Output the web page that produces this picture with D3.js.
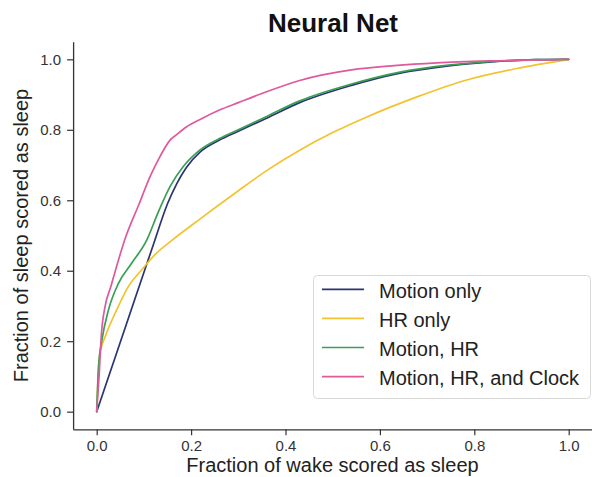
<!DOCTYPE html>
<html>
<head>
<meta charset="utf-8">
<script src="https://cdn.jsdelivr.net/npm/d3@7"></script>
<style>
  html, body { margin: 0; padding: 0; background: #fff; }
  svg { display: block; font-family: "Liberation Sans", Arial, sans-serif; }
</style>
</head>
<body>
<svg id="chart" width="592" height="477"></svg>
<script>
// ROC curves: fraction of wake scored as sleep (x) vs fraction of sleep scored as sleep (y)
const seriesNames = ["Motion only", "HR only", "Motion, HR", "Motion, HR, and Clock"];
const seriesColors = ["#2a3572", "#f3c22e", "#3a9e55", "#df5a9c"];

const motionX = [0, 0.06, 0.12, 0.15, 0.17, 0.19, 0.22, 0.26, 0.3, 0.36, 0.43, 0.54, 0.64, 0.75, 0.85, 0.93, 1.0];
const motionY = [0, 0.237, 0.474, 0.59, 0.648, 0.693, 0.738, 0.771, 0.796, 0.833, 0.877, 0.926, 0.96, 0.982, 0.994, 0.999, 1.0];

const hrX = [0, 0.003, 0.007, 0.018, 0.039, 0.067, 0.095, 0.125, 0.16, 0.22, 0.29, 0.36, 0.43, 0.5, 0.57, 0.68, 0.78, 0.89, 1.0];
const hrY = [0, 0.1, 0.166, 0.213, 0.279, 0.355, 0.402, 0.448, 0.487, 0.548, 0.617, 0.684, 0.742, 0.792, 0.835, 0.894, 0.94, 0.974, 1.0];

const motionHrX = [0, 0.004, 0.011, 0.025, 0.046, 0.074, 0.106, 0.13, 0.155, 0.183, 0.219, 0.26, 0.3, 0.36, 0.43, 0.54, 0.64, 0.75, 0.85, 0.93, 1.0];
const motionHrY = [0, 0.13, 0.203, 0.289, 0.364, 0.421, 0.487, 0.565, 0.638, 0.695, 0.743, 0.775, 0.8, 0.838, 0.882, 0.93, 0.963, 0.984, 0.995, 0.999, 1.0];

const clockX = [0, 0.005, 0.01, 0.018, 0.03, 0.046, 0.06, 0.09, 0.113, 0.134, 0.155, 0.17, 0.19, 0.22, 0.26, 0.3, 0.35, 0.43, 0.54, 0.63, 0.72, 0.85, 1.0];
const clockY = [0, 0.1, 0.22, 0.3, 0.355, 0.43, 0.49, 0.59, 0.667, 0.724, 0.77, 0.787, 0.808, 0.83, 0.856, 0.877, 0.903, 0.94, 0.97, 0.982, 0.99, 0.996, 1.0];

const tickValues = [0, 0.2, 0.4, 0.6, 0.8, 1.0];

const titleText = "Neural Net";
const xLabel = "Fraction of wake scored as sleep";
const yLabel = "Fraction of sleep scored as sleep";

const series = [
  { name: seriesNames[0], color: seriesColors[0], xs: motionX, ys: motionY },
  { name: seriesNames[1], color: seriesColors[1], xs: hrX, ys: hrY },
  { name: seriesNames[2], color: seriesColors[2], xs: motionHrX, ys: motionHrY },
  { name: seriesNames[3], color: seriesColors[3], xs: clockX, ys: clockY }
];

const svg = d3.select("#chart");

const x = d3.scaleLinear().domain([-0.05, 1.05]).range([73.1, 592.3]);
const y = d3.scaleLinear().domain([-0.05, 1.05]).range([429.3, 41.7]);

const fmt = d3.format(".1f");

// axes (left and bottom spines only)
const gx = svg.append("g")
  .attr("transform", `translate(0,${y.range()[0]})`)
  .call(d3.axisBottom(x).tickValues(tickValues).tickFormat(fmt).tickSize(6).tickSizeOuter(0).tickPadding(5));

const gy = svg.append("g")
  .attr("transform", `translate(${x.range()[0]},0)`)
  .call(d3.axisLeft(y).tickValues(tickValues).tickFormat(fmt).tickSize(6).tickSizeOuter(0).tickPadding(6));

[gx, gy].forEach(g => {
  g.select(".domain").attr("stroke", "#333").attr("stroke-width", 1.3);
  g.selectAll(".tick line").attr("stroke", "#333").attr("stroke-width", 1.2);
  g.selectAll(".tick text").attr("fill", "#333").style("font-size", "15px")
    .style("font-family", "'Liberation Sans', Arial, sans-serif");
});

// curves
const line = d3.line()
  .x(d => x(d[0]))
  .y(d => y(d[1]))
  .curve(d3.curveMonotoneX);

svg.append("g").selectAll("path")
  .data(series)
  .join("path")
  .attr("d", s => line(s.xs.map((v, i) => [v, s.ys[i]])))
  .attr("fill", "none")
  .attr("stroke", s => s.color)
  .attr("stroke-width", 1.7)
  .attr("stroke-linejoin", "round")
  .attr("stroke-linecap", "round");

// title
svg.append("text")
  .attr("x", 333)
  .attr("y", 32)
  .attr("text-anchor", "middle")
  .style("font-size", "26px")
  .style("font-weight", "bold")
  .attr("fill", "#111")
  .text(titleText);

// axis labels
svg.append("text")
  .attr("x", 332.5)
  .attr("y", 472)
  .attr("text-anchor", "middle")
  .style("font-size", "20px")
  .attr("fill", "#222")
  .text(xLabel);

svg.append("text")
  .attr("transform", `translate(28,${(y.range()[0] + y.range()[1]) / 2}) rotate(-90)`)
  .attr("text-anchor", "middle")
  .style("font-size", "20px")
  .attr("fill", "#222")
  .text(yLabel);

// legend
const legend = svg.append("g").attr("transform", "translate(313,275)");
legend.append("rect")
  .attr("x", 0.5).attr("y", 0.5)
  .attr("width", 277).attr("height", 123)
  .attr("rx", 4)
  .attr("fill", "#fff")
  .attr("fill-opacity", 0.85)
  .attr("stroke", "#d8d8d8")
  .attr("stroke-width", 1);

const rows = legend.selectAll("g.row")
  .data(series)
  .join("g")
  .attr("class", "row")
  .attr("transform", (d, i) => `translate(0,${14.3 + i * 29.1})`);

rows.append("line")
  .attr("x1", 9).attr("x2", 51)
  .attr("y1", 0).attr("y2", 0)
  .attr("stroke", d => d.color)
  .attr("stroke-width", 1.7);

rows.append("text")
  .attr("x", 66)
  .attr("y", 8.5)
  .style("font-size", "20px")
  .attr("fill", "#222")
  .text(d => d.name);
</script>
</body>
</html>
